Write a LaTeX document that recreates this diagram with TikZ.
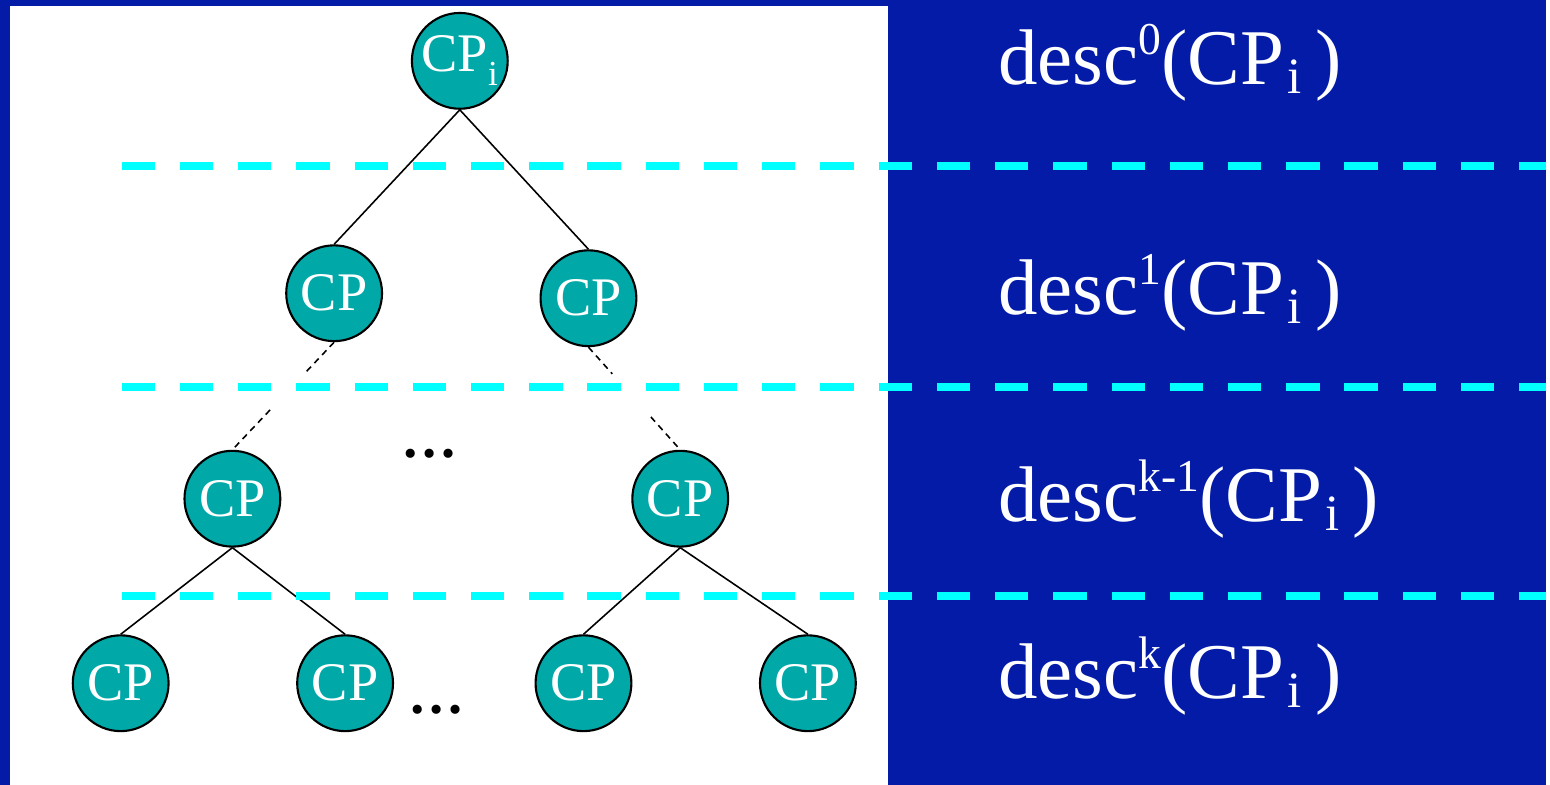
\documentclass[tikz,border=0pt]{standalone}
\usepackage{fontspec}
\setmainfont{Liberation Serif}
\usetikzlibrary{calc}
\definecolor{slideblue}{RGB}{4,27,168}
\definecolor{cpteal}{RGB}{0,168,168}
\definecolor{levelcyan}{RGB}{0,255,255}
% desc^n(CP_i) with the small raised / lowered parts
\newcommand{\descof}[1]{desc\raisebox{8.6pt}{\fontsize{13}{13}\selectfont #1}(CP\raisebox{-2.6pt}{\fontsize{14.5}{15}\selectfont\hspace{1pt}i}\hspace{0.17em})}
\begin{document}
\begin{tikzpicture}[x=0.01cm, y=-0.01cm,
  cp/.style={circle, draw, line width=0.6pt, fill=cpteal, minimum size=0.96cm, inner sep=0pt, text=white, font=\fontsize{15.5}{16}\selectfont},
  edge/.style={line width=0.45pt},
  part/.style={line width=0.45pt, dash pattern=on 1.8pt off 1.4pt},
  level/.style={levelcyan, line width=2.3pt, dash pattern=on 9.5pt off 7.1pt},
  gap/.style={anchor=base, inner sep=0pt, font=\fontsize{16}{17}\selectfont\bfseries},
  lbl/.style={anchor=base west, inner sep=0pt, text=white, font=\fontsize{22.5}{26}\selectfont}]
\fill[slideblue] (0,0) rectangle (1550,787);
\fill[white] (10,6) rectangle (890,787);
\node[cp] (cp0) at (461,61) {CP\raisebox{-4pt}{\fontsize{10}{10}\selectfont i}};
\node[cp] (cp1) at (335,294) {CP};
\node[cp] (cp2) at (590,299) {CP};
\node[cp] (cp3) at (233,500) {CP};
\node[cp] (cp4) at (682,500) {CP};
\node[cp] (cp5) at (121,685) {CP};
\node[cp] (cp6) at (346,685) {CP};
\node[cp] (cp7) at (585,685) {CP};
\node[cp] (cp8) at (810,685) {CP};
\node[gap] (gap0) at (431,459) {…};
\node[gap] (gap1) at (438,715) {…};
\draw[edge] (cp0.south) -- (cp1.north);
\draw[edge] (cp0.south) -- (cp2.north);
% broken links down to level k-1
\draw[part] (cp1.south) -- ($(cp1.south)!0.28!(cp3.north)$);
\draw[part] ($(cp1.south)!0.63!(cp3.north)$) -- (cp3.north);
\draw[part] (cp2.south) -- ($(cp2.south)!0.26!(cp4.north)$);
\draw[part] ($(cp2.south)!0.68!(cp4.north)$) -- (cp4.north);
\draw[edge] (cp3.south) -- (cp5.north);
\draw[edge] (cp3.south) -- (cp6.north);
\draw[edge] (cp4.south) -- (cp7.north);
\draw[edge] (cp4.south) -- (cp8.north);
% level separators
\foreach \y in {166,388,598}
  \draw[level] (122,\y) -- (1550,\y);
\node[lbl] (d0) at (1000,85) {\descof{0}};
\node[lbl] (d1) at (1000,315) {\descof{1}};
\node[lbl] (d2) at (1000,523) {\descof{k-1}};
\node[lbl] (d3) at (1000,700) {\descof{k}};
\end{tikzpicture}
\end{document}
